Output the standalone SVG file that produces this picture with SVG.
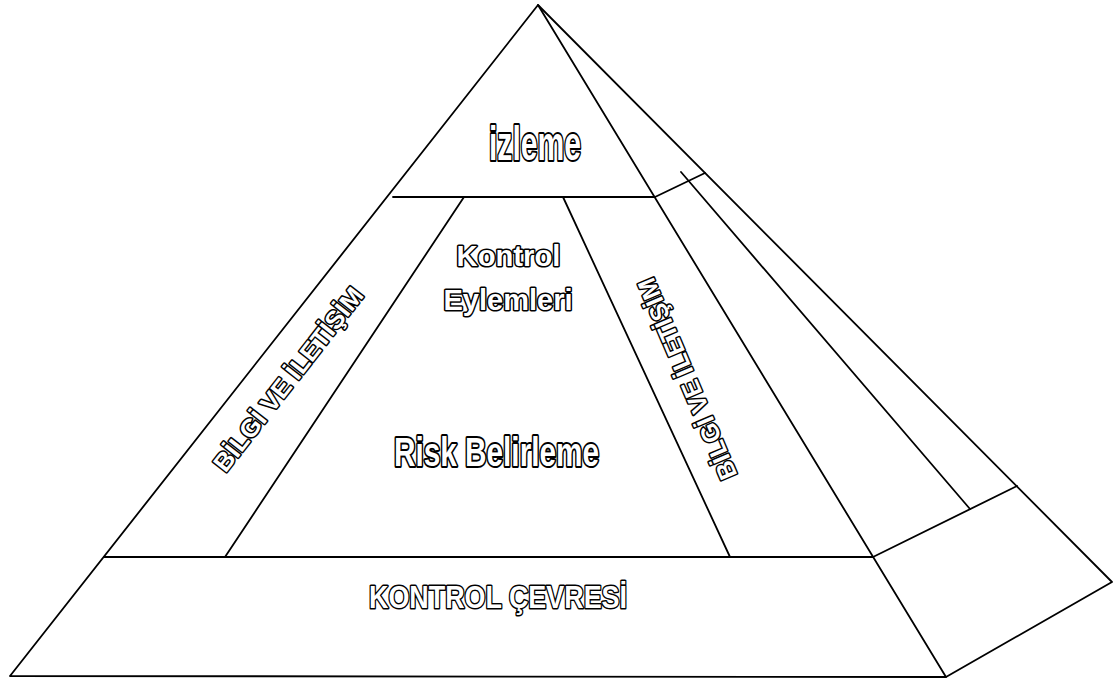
<svg xmlns="http://www.w3.org/2000/svg" width="1113" height="680" viewBox="0 0 1113 680">
  <defs>
    <style>
      .ln { stroke: #000; stroke-width: 1.8; fill: none; stroke-linecap: round; stroke-linejoin: round; }
      .t { font-family: "Liberation Sans", Arial, sans-serif; font-weight: bold; fill: #fff; stroke: #000; paint-order: stroke; stroke-linejoin: round; }
      .big { stroke-width: 4; }
      .small { stroke-width: 3; }
    </style>
    <clipPath id="kc"><rect x="0" y="560" width="629" height="80"/></clipPath>
  </defs>
  <rect width="1113" height="680" fill="#fff"/>
  <g id="connectors">
    <polyline class="ln" points="10,676 538,5 946,677 10,676"/>
    <polyline class="ln" points="538,5 1112,582 946,677"/>
    <line class="ln" x1="104" y1="557" x2="873" y2="557"/>
    <line class="ln" x1="873" y1="557" x2="1017" y2="486"/>
    <line class="ln" x1="393" y1="197" x2="655" y2="197"/>
    <line class="ln" x1="655" y1="197" x2="705" y2="173"/>
    <line class="ln" x1="681" y1="172" x2="970" y2="509"/>
    <line class="ln" x1="464" y1="197" x2="225" y2="557"/>
    <line class="ln" x1="563" y1="197" x2="730" y2="557"/>
  </g>
  <g id="izleme">
    <text class="t big" x="489" y="160" font-size="49" textLength="92" lengthAdjust="spacingAndGlyphs">izleme</text>
  </g>
  <g id="kontrol-eylemleri">
    <text class="t small" x="508.5" y="266" font-size="29" text-anchor="middle" textLength="104" lengthAdjust="spacingAndGlyphs">Kontrol</text>
    <text class="t small" x="508" y="310" font-size="29" text-anchor="middle" textLength="129" lengthAdjust="spacingAndGlyphs">Eylemleri</text>
  </g>
  <g id="risk-belirleme">
    <text class="t big" x="394" y="466" font-size="41" textLength="205" lengthAdjust="spacingAndGlyphs">Risk Belirleme</text>
  </g>
  <g id="kontrol-cevresi">
    <text class="t small" x="369" y="608" font-size="32" textLength="258" lengthAdjust="spacingAndGlyphs" clip-path="url(#kc)">KONTROL ÇEVRESİ</text>
  </g>
  <g id="bilgi-left">
    <text class="t small" transform="translate(288,379) rotate(-52)" x="0" y="9" font-size="25" text-anchor="middle" textLength="226" lengthAdjust="spacingAndGlyphs">BİLGİ VE İLETİŞİM</text>
  </g>
  <g id="bilgi-right">
    <text class="t small" transform="translate(687,379) rotate(-113)" x="0" y="9" font-size="25" text-anchor="middle" textLength="216" lengthAdjust="spacingAndGlyphs">BİLGİ VE İLETİŞİM</text>
  </g>
</svg>
